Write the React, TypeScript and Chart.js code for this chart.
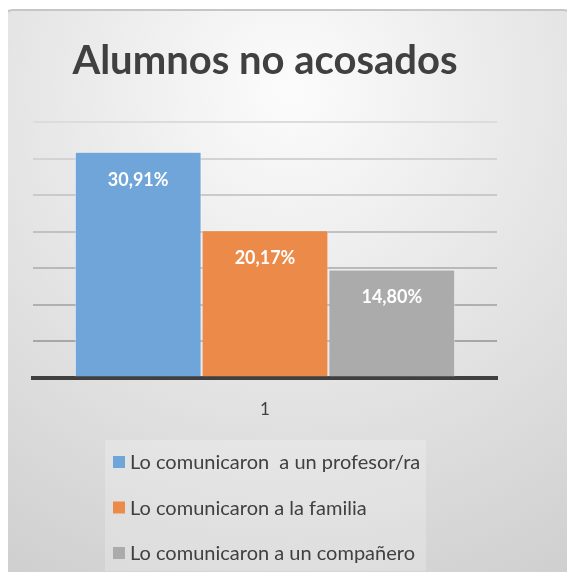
import React, { useEffect, useRef } from "react";
import { Chart, registerables } from "chart.js";

Chart.register(...registerables);

const categories = ["1"];
const seriesNames = [
  "Lo comunicaron  a un profesor/ra",
  "Lo comunicaron a la familia",
  "Lo comunicaron a un compañero",
];
const seriesValues = [[30.91], [20.17], [14.8]];
const seriesColors = ["#6fa5d8", "#ec8a4a", "#ababab"];
const titleText = "Alumnos no acosados";
const yMax = 35;
const yStep = 5;

const FONT = "Lato, 'Open Sans', sans-serif";

const framePlugin = {
  id: "frame",
  beforeDraw(chart: any) {
    const ctx = chart.ctx;
    const w = chart.width;
    const h = chart.height;
    ctx.save();
    ctx.fillStyle = "#ffffff";
    ctx.fillRect(0, 0, w, h);
    const x0 = 5, y0 = 10, x1 = 571, y1 = h + 10, r = 8;
    const g = ctx.createRadialGradient(290, 90, 10, 290, 90, 560);
    g.addColorStop(0, "#fbfbfb");
    g.addColorStop(0.35, "#ebebeb");
    g.addColorStop(1, "#cfcfcf");
    ctx.beginPath();
    ctx.moveTo(x0 + r, y0);
    ctx.lineTo(x1 - r, y0);
    ctx.quadraticCurveTo(x1, y0, x1, y0 + r);
    ctx.lineTo(x1, y1);
    ctx.lineTo(x0, y1);
    ctx.lineTo(x0, y0 + r);
    ctx.quadraticCurveTo(x0, y0, x0 + r, y0);
    ctx.closePath();
    ctx.fillStyle = g;
    ctx.fill();
    ctx.strokeStyle = "#c6c6c6";
    ctx.lineWidth = 2;
    ctx.stroke();
    ctx.restore();
  },
};

const labelPlugin = {
  id: "barLabels",
  afterDatasetsDraw(chart: any) {
    const ctx = chart.ctx;
    ctx.save();
    ctx.fillStyle = "#ffffff";
    ctx.font = `bold 18px ${FONT}`;
    ctx.textAlign = "center";
    ctx.textBaseline = "middle";
    chart.data.datasets.forEach((ds: any, i: number) => {
      const meta = chart.getDatasetMeta(i);
      meta.data.forEach((bar: any, j: number) => {
        const v = ds.data[j] as number;
        const txt = v.toFixed(2).replace(".", ",") + "%";
        ctx.fillText(txt, bar.x, bar.y + 28);
      });
    });
    ctx.restore();
  },
};

const legendPlugin = {
  id: "vLegend",
  afterDraw(chart: any) {
    const ctx = chart.ctx;
    ctx.save();
    const bx = 105, by = 440, bw = 321, bh = 131;
    ctx.fillStyle = "rgba(255,255,255,0.22)";
    ctx.fillRect(bx, by, bw, bh);
    ctx.font = `20px ${FONT}`;
    ctx.textBaseline = "middle";
    ctx.textAlign = "left";
    chart.data.datasets.forEach((ds: any, i: number) => {
      const cy = 462 + i * 45.5;
      ctx.fillStyle = ds.backgroundColor;
      ctx.fillRect(113, cy - 6, 12, 12);
      ctx.fillStyle = "#404040";
      ctx.fillText(ds.label, 130, cy + 1);
    });
    ctx.restore();
  },
};

const gridColor = (ctx: any) => {
  const v = ctx.tick ? ctx.tick.value : 0;
  const t = v / yMax;
  const c = Math.round(158 + t * 62);
  return `rgb(${c},${c},${c})`;
};

export default function App() {
  const ref = useRef<HTMLCanvasElement | null>(null);
  useEffect(() => {
    if (!ref.current) return;
    const chart = new Chart(ref.current, {
      type: "bar",
      data: {
        labels: categories,
        datasets: seriesNames.map((name, i) => ({
          label: name,
          data: seriesValues[i],
          backgroundColor: seriesColors[i],
          borderColor: "rgba(255,255,255,0.5)",
          borderWidth: 1,
        })),
      },
      options: {
        animation: false,
        responsive: false,
        devicePixelRatio: 1,
        layout: { padding: { left: 33, right: 78, top: 0, bottom: 146 } },
        datasets: { bar: { categoryPercentage: 0.82, barPercentage: 1 } },
        plugins: {
          legend: { display: false },
          tooltip: { enabled: false },
          title: {
            display: true,
            text: titleText,
            color: "#404040",
            font: { family: FONT, size: 40, weight: "bold" },
            padding: { top: 37, bottom: 37 },
          },
        },
        scales: {
          x: {
            grid: { display: false },
            border: { display: true, color: "#404040", width: 4 },
            ticks: {
              color: "#404040",
              font: { family: FONT, size: 17 },
              padding: 14,
            },
          },
          y: {
            min: 0,
            max: yMax,
            ticks: { display: false, stepSize: yStep },
            border: { display: false },
            grid: { color: gridColor, lineWidth: 2, drawTicks: false },
            afterFit: (scale: any) => {
              scale.width = 0;
            },
          },
        },
      },
      plugins: [framePlugin, labelPlugin, legendPlugin],
    });
    return () => chart.destroy();
  }, []);
  return (
    <div style={{ margin: "-8px", width: 575, height: 580 }}>
      <canvas ref={ref} width={575} height={580} style={{ display: "block" }} />
    </div>
  );
}
